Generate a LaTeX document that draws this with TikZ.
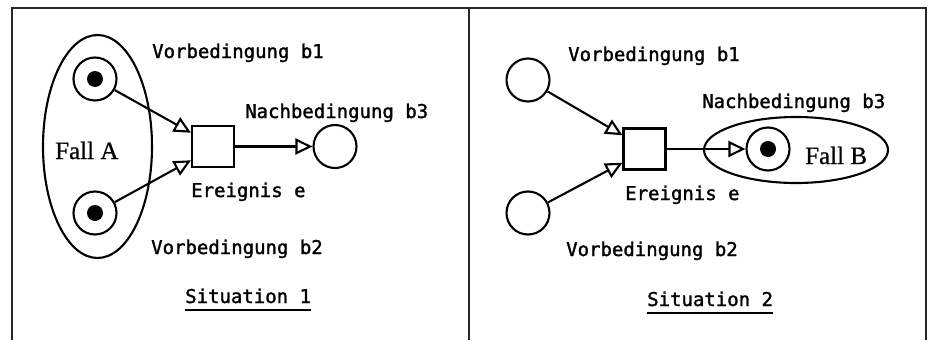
\documentclass[tikz,border=0pt]{standalone}
\usepackage{fontspec}
\setmainfont{Liberation Serif}[FakeBold=0.8]
\newfontfamily\monofont{DejaVu Sans Mono}[FakeBold=1.5]
\usetikzlibrary{arrows.meta,shapes.geometric}
\begin{document}
\begin{tikzpicture}[x=1pt,y=-1pt,
 place/.style={circle,draw,line width=2.1pt,minimum size=43pt,inner sep=0pt},
 token/.style={circle,fill,minimum size=16pt,inner sep=0pt},
 trans/.style={rectangle,draw,line width=2.1pt,minimum width=42pt,minimum height=41pt,inner sep=0pt},
 case/.style={ellipse,draw,line width=2.1pt,inner sep=0pt},
 lbl/.style={font=\monofont\fontsize{19}{19}\selectfont,anchor=base west,inner sep=0pt},
 fall/.style={font=\fontsize{25}{25}\selectfont,anchor=base west,inner sep=0pt},
 arr/.style={line width=2.1pt,-{Triangle[open,length=17pt,width=16pt]}},
 uline/.style={line width=1.5pt},
 frame/.style={line width=1.2pt,black!85}]
\useasboundingbox (0,0) rectangle (928,340);
% frame
\draw[frame] (12,340) -- (12,8) -- (926,8) -- (926,340);
\draw[frame] (469,8) -- (469,340);

% ---------- Situation 1 ----------
\node[case,minimum width=109pt,minimum height=223pt] (fa) at (97.5,146.5) {};
\node[fall] (fatxt) at (55,159) {Fall A};
\node[place] (a1) at (95,79) {};
\node[token] (a1t) at (a1) {};
\node[place] (a2) at (95,213) {};
\node[token] (a2t) at (a2) {};
\node[trans] (ta) at (213,146.5) {};
\node[place] (a3) at (335,146.5) {};
\draw[arr] (a1) -- (ta.148);
\draw[arr] (a2) -- (ta.212);
\draw[arr] (ta.east) -- (a3);
\node[lbl] (la1) at (152,58) {Vorbedingung b1};
\node[lbl] (la3) at (245,118) {Nachbedingung b3};
\node[lbl] (lae) at (191,197) {Ereignis e};
\node[lbl] (la2) at (151,254) {Vorbedingung b2};
\node[lbl] (s1) at (185,303) {Situation 1};
\draw[uline] ([yshift=-7pt]s1.base west) -- ([yshift=-7pt]s1.base east);

% ---------- Situation 2 ----------
\node[case,minimum width=184pt,minimum height=66pt] (fb) at (796,150) {};
\node[fall] (fbtxt) at (805,164) {Fall B};
\node[place] (c1) at (528,80) {};
\node[place] (c2) at (528,213) {};
\node[trans] (tb) at (644.5,149) {};
\node[place] (c3) at (768,149) {};
\node[token] (c3t) at (c3) {};
\draw[arr] (c1) -- (tb.148);
\draw[arr] (c2) -- (tb.212);
\draw[arr] (tb.east) -- (c3);
\node[lbl] (lc1) at (568,61) {Vorbedingung b1};
\node[lbl] (lc3) at (702,108) {Nachbedingung b3};
\node[lbl] (lce) at (625,200) {Ereignis e};
\node[lbl] (lc2) at (566,256) {Vorbedingung b2};
\node[lbl] (s2) at (647,306) {Situation 2};
\draw[uline] ([yshift=-7pt]s2.base west) -- ([yshift=-7pt]s2.base east);
\end{tikzpicture}
\end{document}
